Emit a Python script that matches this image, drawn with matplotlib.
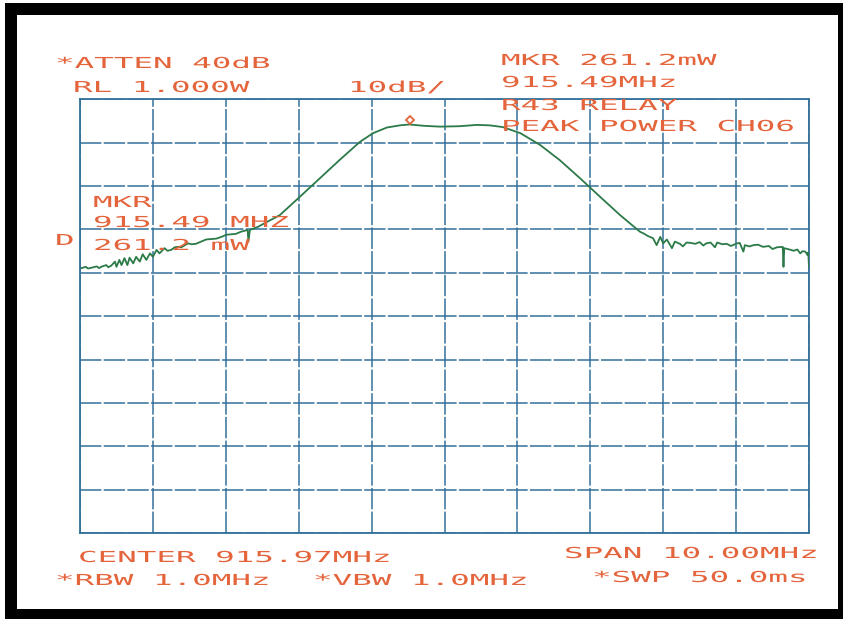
import matplotlib
matplotlib.use('Agg')
import matplotlib.pyplot as plt
from matplotlib.patches import Rectangle
from matplotlib.patheffects import AbstractPathEffect
from matplotlib.transforms import Affine2D, offset_copy

# trace (MHz, dBm); ref level 1.000 W = 30 dBm, 10 dB/div
freq_mhz = [910.99, 911.05, 911.08, 911.13, 911.20, 911.23, 911.26, 911.33, 911.36, 911.40,
            911.45, 911.47, 911.51, 911.54, 911.58, 911.62, 911.65, 911.70, 911.74, 911.79,
            911.83, 911.88, 911.93, 911.97, 912.02, 912.06, 912.13, 912.17, 912.22, 912.27,
            912.31, 912.36, 912.41, 912.45, 912.50, 912.56, 912.63, 912.70, 912.77, 912.84,
            912.91, 912.98, 913.05, 913.11, 913.18, 913.27, 913.28, 913.30, 913.41, 913.53,
            913.71, 913.99, 914.26, 914.53, 914.81, 914.99, 915.18, 915.36, 915.49, 915.68,
            915.91, 916.18, 916.41, 916.59, 916.77, 917.01, 917.28, 917.55, 917.83, 918.10,
            918.38, 918.65, 918.70, 918.76, 918.83, 918.88, 918.93, 918.97, 919.02, 919.09,
            919.13, 919.20, 919.24, 919.29, 919.35, 919.41, 919.47, 919.52, 919.56, 919.62,
            919.68, 919.71, 919.78, 919.84, 919.90, 919.98, 920.02, 920.07, 920.09, 920.15,
            920.21, 920.27, 920.34, 920.42, 920.47, 920.53, 920.61, 920.62, 920.63, 920.70,
            920.76, 920.81, 920.85, 920.88, 920.92, 920.95, 920.96, 920.97]
power_dbm = [-8.9, -8.6, -9.0, -8.8, -8.5, -8.9, -8.6, -8.2, -8.7, -8.3,
             -7.4, -8.6, -7.0, -8.2, -6.6, -8.2, -6.5, -7.8, -6.3, -7.4,
             -5.7, -7.0, -5.5, -6.3, -4.7, -5.5, -4.3, -4.9, -4.7, -4.1,
             -4.0, -4.1, -3.6, -3.2, -3.4, -3.3, -2.8, -2.3, -2.2, -2.1,
             -1.7, -1.2, -1.1, -1.0, -0.5, -0.1, -2.8, -0.1, 0.6, 1.7,
             3.3, 7.6, 11.8, 16.0, 20.2, 22.2, 23.5, 24.0, 24.2, 23.9,
             23.7, 23.8, 24.1, 24.0, 23.6, 22.2, 19.5, 16.0, 11.8, 7.6,
             3.3, -0.5, -0.9, -1.5, -2.0, -3.6, -1.7, -3.2, -2.3, -4.3,
             -2.8, -3.3, -3.9, -3.0, -3.1, -3.3, -2.9, -3.7, -3.2, -3.0,
             -4.1, -3.0, -3.4, -3.3, -3.8, -3.2, -3.1, -5.1, -3.6, -3.9,
             -3.6, -3.5, -4.0, -3.8, -4.5, -4.1, -4.0, -8.6, -4.3, -4.6,
             -4.9, -4.6, -5.5, -5.0, -5.1, -5.9, -5.3, -8.6]

marker_mhz = 915.49
marker_dbm = 24.17

center_mhz = 915.97
span_mhz = 10.0
ref_dbm = 30
db_per_div = 10

# annotation lines: (text, left px, baseline px)
labels = [
    ('*ATTEN 40dB', 55, 68),
    ('RL 1.000W', 73, 92),
    ('10dB/', 348, 92),
    ('MKR 261.2mW', 501, 65),
    ('915.49MHz', 501, 87),
    ('R43 RELAY', 501, 110),
    ('PEAK POWER CH06', 501, 131),
    ('MKR', 93, 207),
    ('915.49 MHZ', 93, 227),
    ('261.2 mW', 93, 250),
    ('D', 55, 245),
    ('CENTER 915.97MHz', 78, 562),
    ('*RBW 1.0MHz', 55, 585),
    ('*VBW 1.0MHz', 313, 585),
    ('SPAN 10.00MHz', 564, 558),
    ('*SWP 50.0ms', 592, 582),
]

W, H = 843, 619
TXT = '#e4643c'
GRID = '#33709a'
TRACE = '#2b7a48'


# plotter font is very wide, so stretch glyphs sideways around the text origin
class Stretch(AbstractPathEffect):
    def __init__(self, sx):
        super().__init__()
        self.sx = sx

    def draw_path(self, renderer, gc, tpath, affine, rgbFace=None):
        m = affine.get_matrix()
        x0, y0 = m[0, 2], m[1, 2]
        a = affine + Affine2D().translate(-x0, -y0).scale(self.sx, 1).translate(x0, y0)
        renderer.draw_path(gc, tpath, a, rgbFace)


fig = plt.figure(figsize=(W / 100, H / 100), dpi=100, facecolor='white')

# black photo frame (behind the axes)
fig.patches.append(Rectangle((5 / W, 0), 1, 1 - 3 / H, transform=fig.transFigure,
                             facecolor='black', edgecolor='none', zorder=-2))
fig.patches.append(Rectangle((17 / W, 10 / H), (838 - 17) / W, (609 - 15) / H,
                             transform=fig.transFigure, facecolor='white',
                             edgecolor='none', zorder=-1))

left, right, top, bottom = 80, 809, 99.3, 533.3
ax = fig.add_axes([left / W, 1 - bottom / H, (right - left) / W, (bottom - top) / H])
ax.set_facecolor('none')
ax.set_zorder(1)

f0 = center_mhz - span_mhz / 2
ax.set_xlim(f0, f0 + span_mhz)
ax.set_ylim(ref_dbm - 10 * db_per_div, ref_dbm)
ax.set_xticks([f0 + i for i in range(11)])
ax.set_yticks([ref_dbm - db_per_div * i for i in range(11)])
ax.tick_params(length=0, labelbottom=False, labelleft=False)
ax.grid(True, color=GRID, lw=1.1, ls=(0, (14, 1.5)))
for s in ax.spines.values():
    s.set_color(GRID)
    s.set_linewidth(1.3)

ax.plot(freq_mhz, power_dbm, color=TRACE, lw=1.3, zorder=3)
ax.plot([marker_mhz], [marker_dbm], marker='D', ms=4.5, mfc='none', mec=TXT, mew=1.3,
        transform=offset_copy(ax.transData, fig=fig, y=5, units='dots'), zorder=4)

for s, x, y in labels:
    fig.text(x / W, 1 - y / H, s, color=TXT, family='DejaVu Sans Mono', fontsize=10.9,
             ha='left', va='baseline', path_effects=[Stretch(2.15)], zorder=5)

fig.savefig('out.png', dpi=100, facecolor=fig.get_facecolor())
